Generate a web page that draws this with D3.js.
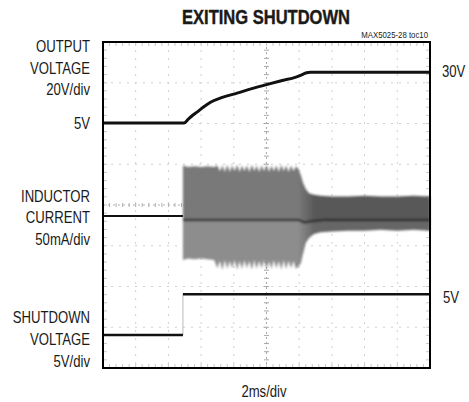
<!DOCTYPE html>
<html><head><meta charset="utf-8">
<script src="https://cdn.jsdelivr.net/npm/d3@7"></script>
<style>
html,body{margin:0;padding:0;background:#fff;}
svg{display:block;}
text{font-family:'Liberation Sans',Arial,sans-serif;fill:#1a1a1a;}
</style></head><body>
<svg id="chart" width="469" height="402"></svg>
<script>
// ---------- data ----------
const title = "EXITING SHUTDOWN";
const figureId = "MAX5025-28 toc10";
const xLabel = "2ms/div";
const timeDomainMs = [0, 20];           // 10 div x 2 ms
const vDivisions = 8;

// Output voltage (V)
const outputT = [0, 4.95, 5.2, 5.45, 5.75, 6.1, 6.55, 7.3, 8.2, 9.1, 10.0, 10.9, 11.8, 12.15, 12.4, 12.7, 20];
const outputV = [5, 5, 6.8, 8.6, 10.4, 12.6, 15.1, 17.6, 19.7, 21.9, 23.9, 25.8, 27.6, 28.7, 29.6, 30, 30];

// Inductor current (mA): trace before switching, switching envelope, average
const currentPreT = [0, 4.89];
const currentPreI = [0, 0];
const bandT = [4.89, 5.2, 5.6, 6.0, 6.4, 6.8,
  7.0, 7.15, 7.3, 7.45, 7.6, 7.75, 7.9, 8.05, 8.2, 8.35, 8.5, 8.65, 8.8, 8.95, 9.1, 9.25,
  9.4, 9.55, 9.7, 9.85, 10.0, 10.15, 10.3, 10.45, 10.6, 10.75, 10.9, 11.05, 11.2, 11.35,
  11.5, 11.65, 11.8, 11.95,
  12.1, 12.25, 12.4, 12.6, 12.9, 13.3, 14, 15, 16, 17, 18, 19, 20];
const bandUpper = [62, 60, 61, 60, 61, 60,
  62, 55, 62, 54, 63, 54, 62, 55, 63, 54, 62, 55, 62, 54, 63, 55,
  62, 54, 62, 55, 63, 54, 62, 55, 62, 54, 63, 55, 62, 54,
  62, 55, 61, 58,
  50, 40, 33, 28, 26, 25, 24, 24, 25, 24, 24, 25, 24];
const bandLower = [-54, -52, -53, -52, -53, -54,
  -64, -55, -66, -54, -65, -55, -64, -54, -66, -55, -65, -54, -64, -55, -66, -54,
  -65, -55, -64, -54, -66, -55, -65, -54, -64, -55, -66, -54, -65, -55,
  -64, -55, -65, -62,
  -58, -45, -33, -27, -22, -20, -19, -18, -18, -17, -18, -17, -18];
const averageT = [4.89, 12.0, 12.3, 12.9, 13.5, 20];
const averageI = [-5, -5, -8, -6, -5, -5];

// Shutdown voltage (V)
const shutdownT = [0, 4.89, 20];
const shutdownV = [0, 5, 5];

// labels
const leftLabels = [["OUTPUT", "VOLTAGE", "20V/div"], ["INDUCTOR", "CURRENT", "50mA/div"], ["SHUTDOWN", "VOLTAGE", "5V/div"]];
const levelLabelsLeft = ["5V"];
const levelLabelsRight = ["30V", "5V"];

// ---------- layout ----------
const svg = d3.select("#chart");
const L = 103, R = 430, T = 42, B = 368;
const x = d3.scaleLinear().domain(timeDomainMs).range([L, R]);
const div = d3.scaleLinear().domain([0, vDivisions]).range([B, T]);
function channel(offsetDiv, perDiv) {
  return d3.scaleLinear().domain([-offsetDiv * perDiv, (vDivisions - offsetDiv) * perDiv]).range([B, T]);
}
const yOut = channel(5.76, 20);
const yCur = channel(3.73, 50);
const ySd = channel(0.81, 5);

// defs
const defs = svg.append("defs");
const pat = defs.append("pattern").attr("id", "stripes").attr("patternUnits", "userSpaceOnUse")
  .attr("width", 3).attr("height", 4);
pat.append("rect").attr("x", 0).attr("y", 0).attr("width", 1).attr("height", 4).attr("fill", "rgba(0,0,0,0.10)");
function hgrad(id, c1, c2) {
  const g = defs.append("linearGradient").attr("id", id).attr("gradientUnits", "userSpaceOnUse")
    .attr("x1", L).attr("x2", R).attr("y1", 0).attr("y2", 0);
  const f = v => (v - L) / (R - L);
  g.append("stop").attr("offset", f(298)).attr("stop-color", c1);
  g.append("stop").attr("offset", f(314)).attr("stop-color", c2);
}
hgrad("gUp", "#7e7e7e", "#5c5c5c");
hgrad("gLo", "#929292", "#6a6a6a");
const blur = defs.append("filter").attr("id", "soft").attr("x", "-5%").attr("y", "-5%").attr("width", "110%").attr("height", "110%");
blur.append("feGaussianBlur").attr("stdDeviation", 0.8);

// grid
const grid = svg.append("g");
x.ticks(10).slice(1, -1).forEach(t => {
  grid.append("line").attr("x1", x(t)).attr("x2", x(t)).attr("y1", T).attr("y2", B)
    .attr("stroke", t === 10 ? "#a8a8a8" : "#cfcfcf").attr("stroke-width", 1)
    .attr("stroke-dasharray", t === 10 ? "2,3" : "2,6");
});
div.ticks(8).slice(1, -1).forEach(d => {
  grid.append("line").attr("x1", L).attr("x2", R).attr("y1", div(d)).attr("y2", div(d))
    .attr("stroke", d === 4 ? "#b0b0b0" : "#cfcfcf").attr("stroke-width", 1)
    .attr("stroke-dasharray", d === 4 ? "2,3" : "2,6");
});
// minor ticks on centre lines and borders
const minorX = d3.range(0, 50.01, 1).map(i => timeDomainMs[0] + i * 0.4);
const minorY = d3.range(0, 40.01, 1).map(i => i * 0.2);
minorX.forEach(t => {
  grid.append("line").attr("x1", x(t)).attr("x2", x(t)).attr("y1", div(4) - 2).attr("y2", div(4) + 2).attr("stroke", "#b0b0b0");
  grid.append("line").attr("x1", x(t)).attr("x2", x(t)).attr("y1", T).attr("y2", T + 4).attr("stroke", "#c8c8c8");
  grid.append("line").attr("x1", x(t)).attr("x2", x(t)).attr("y1", B - 4).attr("y2", B).attr("stroke", "#c8c8c8");
});
minorY.forEach(d => {
  grid.append("line").attr("x1", x(10) - 2.5).attr("x2", x(10) + 2.5).attr("y1", div(d)).attr("y2", div(d)).attr("stroke", "#a8a8a8");
  grid.append("line").attr("x1", L).attr("x2", L + 4).attr("y1", div(d)).attr("y2", div(d)).attr("stroke", "#c8c8c8");
  grid.append("line").attr("x1", R - 4).attr("x2", R).attr("y1", div(d)).attr("y2", div(d)).attr("stroke", "#c8c8c8");
});

// inductor current band
const band = bandT.map((t, i) => ({t, up: bandUpper[i], lo: bandLower[i]}));
const avgAt = t => {
  for (let i = 1; i < averageT.length; i++) if (t <= averageT[i]) {
    const a = averageT[i - 1], b = averageT[i];
    return averageI[i - 1] + (averageI[i] - averageI[i - 1]) * (t - a) / (b - a);
  }
  return averageI[averageI.length - 1];
};
const gBand = svg.append("g").attr("filter", "url(#soft)");
const areaUp = d3.area().x(d => x(d.t)).y0(d => yCur(avgAt(d.t))).y1(d => yCur(d.up));
const areaLo = d3.area().x(d => x(d.t)).y0(d => yCur(avgAt(d.t))).y1(d => yCur(d.lo));
gBand.append("path").datum(band).attr("d", areaUp).attr("fill", "url(#gUp)");
gBand.append("path").datum(band).attr("d", areaLo).attr("fill", "url(#gLo)");
gBand.append("path").datum(band).attr("d", d3.area().x(d => x(d.t)).y0(d => yCur(d.lo)).y1(d => yCur(d.up))).attr("fill", "url(#stripes)");

const line = (ys) => d3.line().x(d => x(d[0])).y(d => ys(d[1]));
gBand.append("path").datum(averageT.map((t, i) => [t, averageI[i]])).attr("d", line(yCur))
  .attr("fill", "none").attr("stroke", "#1e1e1e").attr("stroke-width", 2.5).attr("opacity", 0.8);
svg.append("path").datum(currentPreT.map((t, i) => [t, currentPreI[i]])).attr("d", line(yCur))
  .attr("fill", "none").attr("stroke", "#111").attr("stroke-width", 2.2);

// output voltage
svg.append("path").datum(outputT.map((t, i) => [t, outputV[i]]))
  .attr("d", line(yOut).curve(d3.curveMonotoneX))
  .attr("fill", "none").attr("stroke", "#111").attr("stroke-width", 3).attr("stroke-linejoin", "round");

// shutdown voltage: levels dark, edge faint
const sd = shutdownT.map((t, i) => [t, shutdownV[i]]);
svg.append("line").attr("x1", x(sd[1][0])).attr("x2", x(sd[1][0])).attr("y1", ySd(sd[0][1])).attr("y2", ySd(sd[1][1]))
  .attr("stroke", "#bbb").attr("stroke-width", 1);
for (let i = 0; i < sd.length - 1; i++) {
  svg.append("line").attr("x1", x(sd[i][0])).attr("x2", x(sd[i + 1][0])).attr("y1", ySd(sd[i][1])).attr("y2", ySd(sd[i][1]))
    .attr("stroke", "#111").attr("stroke-width", 2.6);
}

// frame
svg.append("rect").attr("x", L).attr("y", T).attr("width", R - L).attr("height", B - T)
  .attr("fill", "none").attr("stroke", "#000").attr("stroke-width", 2);

// texts (condensed by squeezing the measured width)
function label(s, px, py, anchor, size, squeeze) {
  const t = svg.append("text").attr("x", px).attr("y", py).attr("text-anchor", anchor)
    .attr("font-size", size).text(s);
  const w = t.node().getComputedTextLength();
  t.attr("textLength", w * squeeze).attr("lengthAdjust", "spacingAndGlyphs");
  return t;
}
svg.append("text").attr("x", 266).attr("y", 24).attr("text-anchor", "middle")
  .attr("font-size", 19.5).attr("font-weight", "bold").attr("textLength", 168).attr("lengthAdjust", "spacingAndGlyphs")
  .style("stroke", "#1a1a1a").style("stroke-width", 0.4).text(title);
label(figureId, 428, 38, "end", 9.5, 0.82);

const leftBaselines = [[52, 74, 95], [202, 223, 245], [323, 345, 367]];
leftLabels.forEach((lines, i) => lines.forEach((s, j) => label(s, 90, leftBaselines[i][j], "end", 16, 0.82)));
label(levelLabelsLeft[0], 90, 129, "end", 16, 0.82);
label(levelLabelsRight[0], 442, 77, "start", 16, 0.82);
label(levelLabelsRight[1], 443, 303, "start", 16, 0.82);
label(xLabel, 264, 397, "middle", 16, 0.82);
</script>
</body></html>
